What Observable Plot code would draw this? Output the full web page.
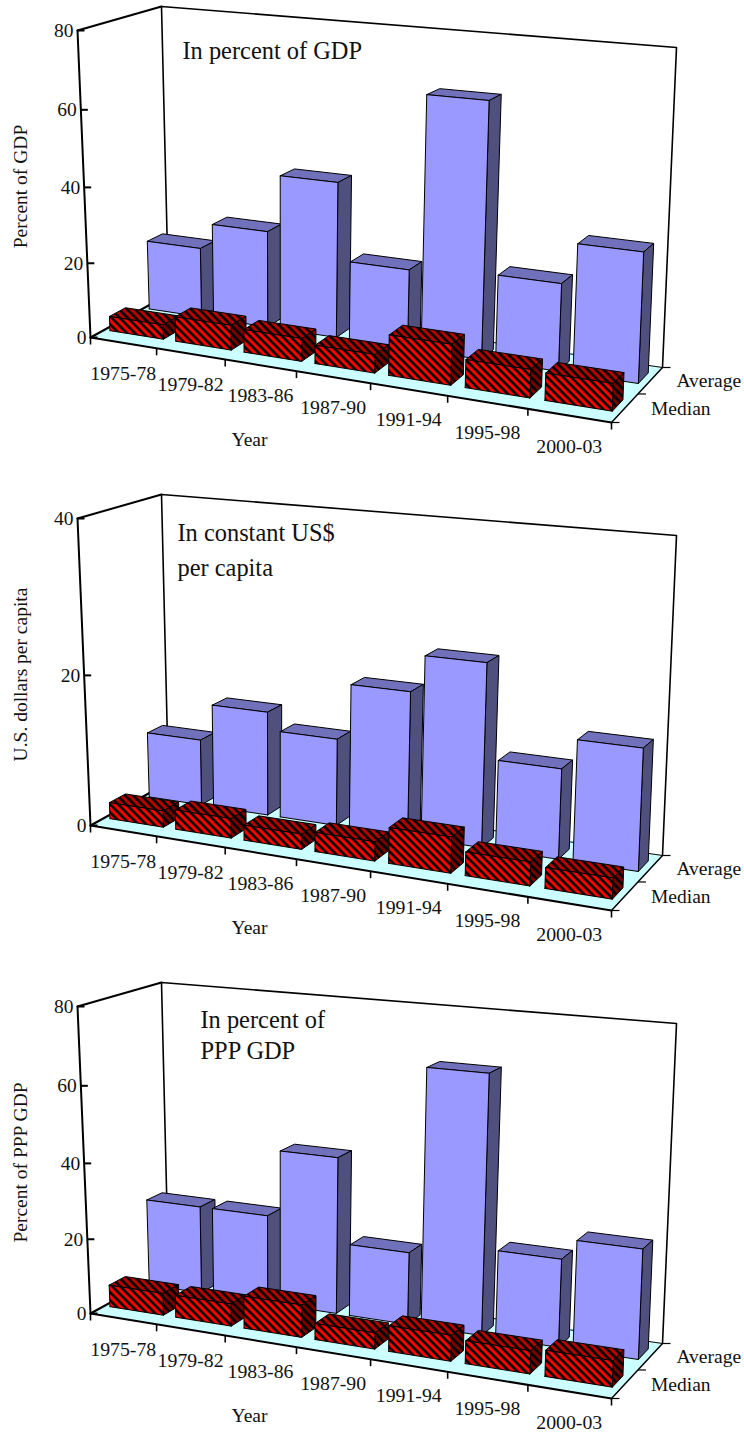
<!DOCTYPE html>
<html>
<head>
<meta charset="utf-8">
<script src="https://cdn.jsdelivr.net/npm/d3@7"></script>
<script src="https://cdn.jsdelivr.net/npm/@observablehq/plot@0.6"></script>
<style>
html,body{margin:0;padding:0;background:#fff}
svg{display:block}
</style>
</head>
<body>
<div id="chart"></div>
<script>
const years = ["1975-78","1979-82","1983-86","1987-90","1991-94","1995-98","2000-03"];
const series = ["Median","Average"];

const gdpAverage = [19,26,41.3,20.8,66,22.5,33];
const gdpMedian = [3.9,6.6,6,4.8,10.4,7.1,6.8];
const usdAverage = [9,14,11.6,19,23.8,11.6,15.5];
const usdMedian = [2.2,2.6,2,2.5,4.6,3,2.6];
const pppAverage = [23.8,23.8,41.5,19,66.8,22.6,27.8];
const pppMedian = [5.9,5.9,8.5,4.2,6.6,5.8,6.5];

const gdpTicks = [0,20,40,60,80];
const usdTicks = [0,20,40];
const pppTicks = [0,20,40,60,80];

// Oblique view of the chart box: floor and ceiling corners, front-left, front-right, back-right, back-left
const floorCorners = [[90,337],[611,422],[662,367],[168,294]];
const roofCorners = [[77,30],[623,77],[676,47],[161,6]];
const FONT = "Liberation Serif";

function homography(q){
  const [[x0,y0],[x1,y1],[x2,y2],[x3,y3]] = q;
  const dx1=x1-x2, dx2=x3-x2, sx=x0-x1+x2-x3, dy1=y1-y2, dy2=y3-y2, sy=y0-y1+y2-y3;
  const den=dx1*dy2-dx2*dy1, g=(sx*dy2-dx2*sy)/den, h=(dx1*sy-sx*dy1)/den;
  const a=x1-x0+g*x1, b=x3-x0+h*x3, d=y1-y0+g*y1, e=y3-y0+h*y3;
  return (u,v)=>{const w=g*u+h*v+1; return [(a*u+b*v+x0)/w,(d*u+e*v+y0)/w];};
}
const floorH = homography(floorCorners), roofH = homography(roofCorners);
const lift = v => v/(1+0.045*(1-v));
function project(u,d,v){
  const a=floorH(u,d), b=roofH(u,d), t=lift(v);
  return [a[0]+(b[0]-a[0])*t, a[1]+(b[1]-a[1])*t];
}
const px = r => project(r.u,r.d,r.v)[0];
const py = r => project(r.u,r.d,r.v)[1];
const pt = (u,d,v) => ({u,d,v});

const BAR_START = 0.085, BAR_END = 0.9, DEPTH_FRONT = [0.17,0.67], DEPTH_BACK = [0.37,0.87];
const fills = [
  {front:"url(#hatchFront)", top:"url(#hatchTop)", side:"url(#hatchSide)"},
  {front:"#9999ff", top:"#7070bb", side:"#50507f"}
];

function barMarks(values, s, vmax){
  const f = DEPTH_FRONT[s], b = DEPTH_BACK[s];
  return values.flatMap((val,i)=>{
    const u0=(i+BAR_START)/7, u1=(i+BAR_END)/7, v=val/vmax;
    const faces = [
      [[pt(u0,f,v),pt(u0,b,v),pt(u1,b,v),pt(u1,f,v),pt(u0,f,v)], fills[s].top],
      [[pt(u1,f,0),pt(u1,b,0),pt(u1,b,v),pt(u1,f,v),pt(u1,f,0)], fills[s].side],
      [[pt(u0,f,0),pt(u1,f,0),pt(u1,f,v),pt(u0,f,v),pt(u0,f,0)], fills[s].front]
    ];
    return faces.map(([face,fill])=>Plot.line(face,{x:px,y:py,fill,stroke:"black",strokeWidth:1}));
  });
}

function panel({height,vmax,ticks,average,median,yLabel,notes}){
  const textOpts = {fontFamily:FONT,fill:"#111",stroke:null};
  const edge = (pts,w)=>Plot.line(pts,{x:px,y:py,stroke:"black",strokeWidth:w});
  const cellEdges = d3.range(8).map(i=>pt(i/7,0,0));
  const svg = Plot.plot({
    width:744,height,margin:0,
    x:{domain:[0,744],range:[0,744],axis:null},
    y:{domain:[0,height],range:[0,height],axis:null},
    marks:[
      Plot.line([pt(0,0,0),pt(1,0,0),pt(1,1,0),pt(0,1,0),pt(0,0,0)],{x:px,y:py,fill:"#ccffff",stroke:"none"}),
      edge([pt(0,1,0),pt(0,1,1),pt(1,1,1),pt(1,1,0)],1.6),
      edge([pt(0,0,1),pt(0,1,1)],2),
      edge([pt(0,1,0),pt(1,1,0)],1),
      edge([pt(1,0,0),pt(1,1,0)],1.5),
      edge([pt(0,0,0),pt(0,1,0)],2),
      ...barMarks(average,1,vmax),
      ...barMarks(median,0,vmax),
      edge([pt(0,0,0),pt(0,0,1)],2),
      edge([pt(0,0,0),pt(1,0,0)],2),
      Plot.link(ticks,{x1:t=>project(0,0,t/vmax)[0],y1:t=>project(0,0,t/vmax)[1],x2:t=>project(0,0,t/vmax)[0]+7,y2:t=>project(0,0,t/vmax)[1],stroke:"black",strokeWidth:2}),
      Plot.link(cellEdges,{x1:px,y1:py,x2:px,y2:r=>py(r)+7,stroke:"black",strokeWidth:1.6}),
      Plot.link([0,0.5,1],{x1:d=>project(1,d,0)[0],y1:d=>project(1,d,0)[1],x2:d=>project(1,d,0)[0]+8,y2:d=>project(1,d,0)[1],stroke:"black",strokeWidth:1.2}),
      Plot.text(ticks,{x:t=>project(0,0,t/vmax)[0]-4,y:t=>project(0,0,t/vmax)[1],text:t=>String(t),textAnchor:"end",lineAnchor:"middle",fontSize:19.5,...textOpts}),
      Plot.text(years,{x:(y,i)=>project((i+.5)/7,0,0)[0],y:(y,i)=>project((i+.5)/7,0,0)[1]+37,text:y=>y,textAnchor:"middle",lineAnchor:"bottom",fontSize:19.8,...textOpts}),
      Plot.text(series,{x:(s,i)=>project(1,.25+.5*i,0)[0]+26,y:(s,i)=>project(1,.25+.5*i,0)[1]+7,text:s=>s,textAnchor:"start",lineAnchor:"bottom",fontSize:19.5,...textOpts}),
      Plot.text(["Year"],{x:()=>249,y:()=>445,text:s=>s,textAnchor:"middle",lineAnchor:"bottom",fontSize:19.5,...textOpts}),
      Plot.text([yLabel],{x:()=>20,y:()=>186,text:s=>s,rotate:-90,textAnchor:"middle",lineAnchor:"middle",fontSize:19.5,...textOpts}),
      Plot.text(notes.lines,{x:()=>notes.x,y:(s,i)=>notes.y+i*notes.step,text:s=>s,textAnchor:"start",lineAnchor:"bottom",fontSize:24.4,...textOpts})
    ]
  });
  return svg;
}

const chart = document.getElementById("chart");
const p1 = panel({height:488,vmax:80,ticks:gdpTicks,average:gdpAverage,median:gdpMedian,yLabel:"Percent of GDP",notes:{x:182,y:58,step:0,lines:["In percent of GDP"]}});
const p2 = panel({height:488,vmax:40,ticks:usdTicks,average:usdAverage,median:usdMedian,yLabel:"U.S. dollars per capita",notes:{x:177,y:52,step:35,lines:["In constant US$","per capita"]}});
const p3 = panel({height:457,vmax:80,ticks:pppTicks,average:pppAverage,median:pppMedian,yLabel:"Percent of PPP GDP",notes:{x:200,y:51,step:31,lines:["In percent of","PPP GDP"]}});
[p1,p2,p3].forEach(p=>chart.appendChild(p));

// hatch patterns for the Median bars
const defs = d3.select(p1).insert("defs",":first-child");
[["hatchFront","#ff0000"],["hatchTop","#b80000"],["hatchSide","#7a0000"]].forEach(([id,c])=>{
  const pat = defs.append("pattern").attr("id",id).attr("patternUnits","userSpaceOnUse")
    .attr("width",5.66).attr("height",5.66).attr("patternTransform","rotate(-45)");
  pat.append("rect").attr("width",5.66).attr("height",5.66).attr("fill",c);
  pat.append("rect").attr("width",2.6).attr("height",5.66).attr("fill","#000");
});
</script>
</body>
</html>
